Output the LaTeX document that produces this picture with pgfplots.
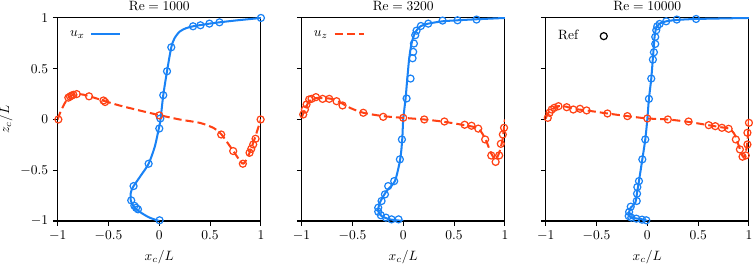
\documentclass[border=0pt]{standalone}
\usepackage{pgfplots}
\pgfplotsset{compat=1.18}
\definecolor{cblue}{RGB}{25,130,245}
\definecolor{cred}{RGB}{255,65,20}
\pgfplotsset{
  panel/.style={
    scale only axis, width=150.6pt, height=150.4pt,
    xmin=-1, xmax=1, ymin=-1, ymax=1,
    xtick={-1,-0.5,0,0.5,1}, ytick={-1,-0.5,0,0.5,1},
    tick align=outside, tick pos=left,
    major tick length=3.5pt,
    every tick/.style={black, line width=0.8pt},
    axis line style={line width=0.8pt},
    xlabel={$x_c/L$},
    every axis x label/.style={at={(axis description cs:0.5,-0.1795)}, anchor=center},
    every axis y label/.style={at={(axis description cs:-0.255,0.5)}, anchor=center, rotate=90},
    every axis title/.style={at={(axis description cs:0.5,1.036)}, anchor=base},
    legend style={at={(0,1)}, anchor=north west, draw=none, fill=none,
      xshift=4pt, yshift=-5pt},
    legend plot pos=right, legend cell align=left,
  },
  sim/.style={line width=1.5pt, smooth, tension=0.45, mark=none},
  ref/.style={only marks, mark=o, mark size=2.6pt, mark options={line width=0.9pt, solid}},
  mydash/.style={dash pattern=on 6pt off 3pt},
  lineleg/.style={legend image code/.code={\path[draw=none] (0pt,0pt) -- (24.5pt,0pt);
     \draw[##1] (3pt,0pt) -- (24.5pt,0pt);}},
  markleg/.style={legend image code/.code={\path[draw=none] (0pt,0pt) -- (24.5pt,0pt);
     \draw[black, line width=0.9pt] (17pt,0pt) circle[radius=2.6pt];}},
}
\begin{document}
\begin{tikzpicture}
% ---------------- Panel 1 ----------------
\begin{axis}[panel, title={$\mathrm{Re}=1000$}, ylabel={$z_c/L$}]
\addplot[sim, cblue, forget plot] coordinates {
(0,-1) (-0.10,-0.965) (-0.2,-0.905) (-0.25,-0.86) (-0.28,-0.80) (-0.28,-0.72)
(-0.255,-0.66) (-0.18,-0.55) (-0.105,-0.436) (-0.045,-0.27) (-0.005,-0.09)
(0.012,0.0) (0.039,0.239) (0.076,0.475) (0.118,0.711) (0.15,0.80) (0.2,0.865)
(0.26,0.898) (0.332,0.918) (0.405,0.93) (0.493,0.944) (0.592,0.957) (0.75,0.975)
(0.9,0.99) (1,1)};
\addplot[sim, cred, mydash, forget plot] coordinates {
(-1,0) (-0.97,0.08) (-0.93,0.16) (-0.895,0.215) (-0.862,0.238) (-0.812,0.250)
(-0.75,0.245) (-0.691,0.23) (-0.62,0.208) (-0.549,0.185) (-0.4,0.14) (-0.2,0.09)
(0,0.043) (0.2,0.0) (0.405,-0.035) (0.536,-0.085) (0.612,-0.148) (0.724,-0.305)
(0.816,-0.433) (0.855,-0.40) (0.888,-0.328) (0.938,-0.19) (0.97,-0.09) (1,0)};
\addplot[ref, cblue, forget plot] coordinates {
(1,1) (0.332,0.918) (0.405,0.928) (0.493,0.944) (0.592,0.957) (0.118,0.711)
(0.076,0.475) (0.039,0.239) (0.010,0.010) (0.000,-0.089) (-0.105,-0.436)
(-0.253,-0.656) (-0.276,-0.797) (-0.245,-0.850) (-0.228,-0.870) (-0.210,-0.885)
(0.003,-0.993)};
\addplot[ref, cred, forget plot] coordinates {
(-0.993,0) (-0.895,0.215) (-0.878,0.226) (-0.862,0.235) (-0.845,0.243)
(-0.812,0.250) (-0.691,0.228) (-0.549,0.187) (-0.533,0.172) (0,0.040)
(0.609,-0.148) (0.727,-0.311) (0.822,-0.436) (0.888,-0.328) (0.905,-0.289)
(0.924,-0.246) (0.947,-0.19) (0.997,0)};
\addlegendimage{cblue, line width=1.5pt, lineleg}
\addlegendentry{$u_x$}
\end{axis}
% ---------------- Panel 2 ----------------
\begin{axis}[panel, at={(180.7pt,0pt)}, title={$\mathrm{Re}=3200$}, yticklabels={}]
\addplot[sim, cblue, forget plot] coordinates {
(0,-1) (-0.131,-0.984) (-0.213,-0.951) (-0.246,-0.9) (-0.23,-0.82)
(-0.164,-0.705) (-0.082,-0.607) (-0.03,-0.393) (-0.01,-0.2) (0,0)
(0.023,0.207) (0.04,0.403) (0.059,0.603) (0.082,0.748) (0.115,0.852)
(0.17,0.918) (0.246,0.944) (0.387,0.967) (0.534,0.977) (0.72,0.987) (1,1)};
\addplot[sim, cred, mydash, forget plot] coordinates {
(-1,0.016) (-0.967,0.098) (-0.925,0.18) (-0.869,0.21) (-0.787,0.21)
(-0.705,0.203) (-0.623,0.17) (-0.525,0.115) (-0.393,0.066) (-0.197,0.033)
(0,0.016) (0.207,0) (0.403,-0.023) (0.6,-0.056) (0.738,-0.089) (0.81,-0.197)
(0.862,-0.328) (0.908,-0.393) (0.944,-0.328) (0.977,-0.197) (1,0)};
\addplot[ref, cblue, forget plot] coordinates {
(0.387,0.974) (0.534,0.977) (0.721,0.984) (0.246,0.944) (0.174,0.921)
(0.131,0.875) (0.118,0.830) (0.105,0.748) (0.098,0.666) (0.092,0.603)
(0.072,0.403) (0.033,0.207) (-0.013,-0.197) (-0.033,-0.393) (-0.089,-0.607)
(-0.148,-0.656) (-0.180,-0.738) (-0.213,-0.803) (-0.246,-0.869) (-0.246,-0.908)
(-0.220,-0.944) (-0.170,-0.967) (-0.115,-0.984) (-0.046,-0.984)};
\addplot[ref, cred, forget plot] coordinates {
(-0.984,0.049) (-0.967,0.098) (-0.951,0.148) (-0.925,0.197) (-0.902,0.203)
(-0.859,0.220) (-0.793,0.203) (-0.728,0.203) (-0.656,0.180) (-0.597,0.138)
(-0.393,0.066) (-0.197,0.026) (0,0.016) (0.207,0) (0.405,-0.02) (0.604,-0.052)
(0.672,-0.062) (0.738,-0.09) (0.806,-0.197) (0.866,-0.355) (0.909,-0.418)
(0.944,-0.354) (0.960,-0.240) (0.980,-0.148) (0.992,-0.082)};
\addlegendimage{cred, line width=1.5pt, mydash, lineleg}
\addlegendentry{$u_z$}
\end{axis}
% ---------------- Panel 3 ----------------
\begin{axis}[panel, at={(361.5pt,0pt)}, title={$\mathrm{Re}=10000$}, yticklabels={}]
\addplot[sim, cblue, forget plot] coordinates {
(0,-1) (-0.059,-0.982) (-0.157,-0.967) (-0.183,-0.935) (-0.163,-0.869)
(-0.118,-0.82) (-0.098,-0.705) (-0.082,-0.607) (-0.049,-0.393) (-0.02,-0.197)
(0,0) (0.016,0.203) (0.039,0.403) (0.059,0.656) (0.072,0.818) (0.088,0.9)
(0.121,0.944) (0.186,0.967) (0.29,0.98) (0.48,0.99) (1,1)};
\addplot[sim, cred, mydash, forget plot] coordinates {
(-1,0.007) (-0.974,0.066) (-0.925,0.108) (-0.874,0.131) (-0.793,0.125)
(-0.728,0.105) (-0.597,0.089) (-0.392,0.059) (-0.196,0.033) (0,0.01)
(0.202,0) (0.4,-0.023) (0.6,-0.056) (0.734,-0.078) (0.806,-0.09)
(0.855,-0.14) (0.89,-0.23) (0.914,-0.3) (0.937,-0.36) (0.96,-0.36)
(0.985,-0.22) (1,0)};
\addplot[ref, cblue, forget plot] coordinates {
(0.48,0.99) (0.29,0.984) (0.186,0.967) (0.121,0.941) (0.098,0.918)
(0.088,0.879) (0.078,0.813) (0.078,0.744) (0.065,0.662) (0.055,0.590)
(0.039,0.403) (0.016,0.203) (-0.02,-0.197) (-0.049,-0.393) (-0.082,-0.607)
(-0.098,-0.666) (-0.101,-0.731) (-0.104,-0.803) (-0.163,-0.859) (-0.179,-0.911)
(-0.183,-0.951) (-0.157,-0.967) (-0.108,-0.977) (-0.052,-0.987) (-0.01,-0.993)};
\addplot[ref, cred, forget plot] coordinates {
(-0.979,0.016) (-0.962,0.066) (-0.940,0.098) (-0.914,0.115) (-0.874,0.131)
(-0.793,0.121) (-0.728,0.098) (-0.662,0.105) (-0.597,0.089) (-0.392,0.059)
(-0.196,0.033) (0,0.010) (0.202,0) (0.406,-0.02) (0.604,-0.056) (0.669,-0.066)
(0.734,-0.082) (0.800,-0.092) (0.871,-0.197) (0.911,-0.295) (0.937,-0.367)
(0.969,-0.354) (0.985,-0.246) (0.985,-0.131) (1.0,-0.033)};
\addlegendimage{black, markleg}
\addlegendentry{Ref}
\end{axis}
\pgfresetboundingbox
\path (-42.7pt,-31.9pt) rectangle (515.1pt,163.7pt);
\end{tikzpicture}
\end{document}
